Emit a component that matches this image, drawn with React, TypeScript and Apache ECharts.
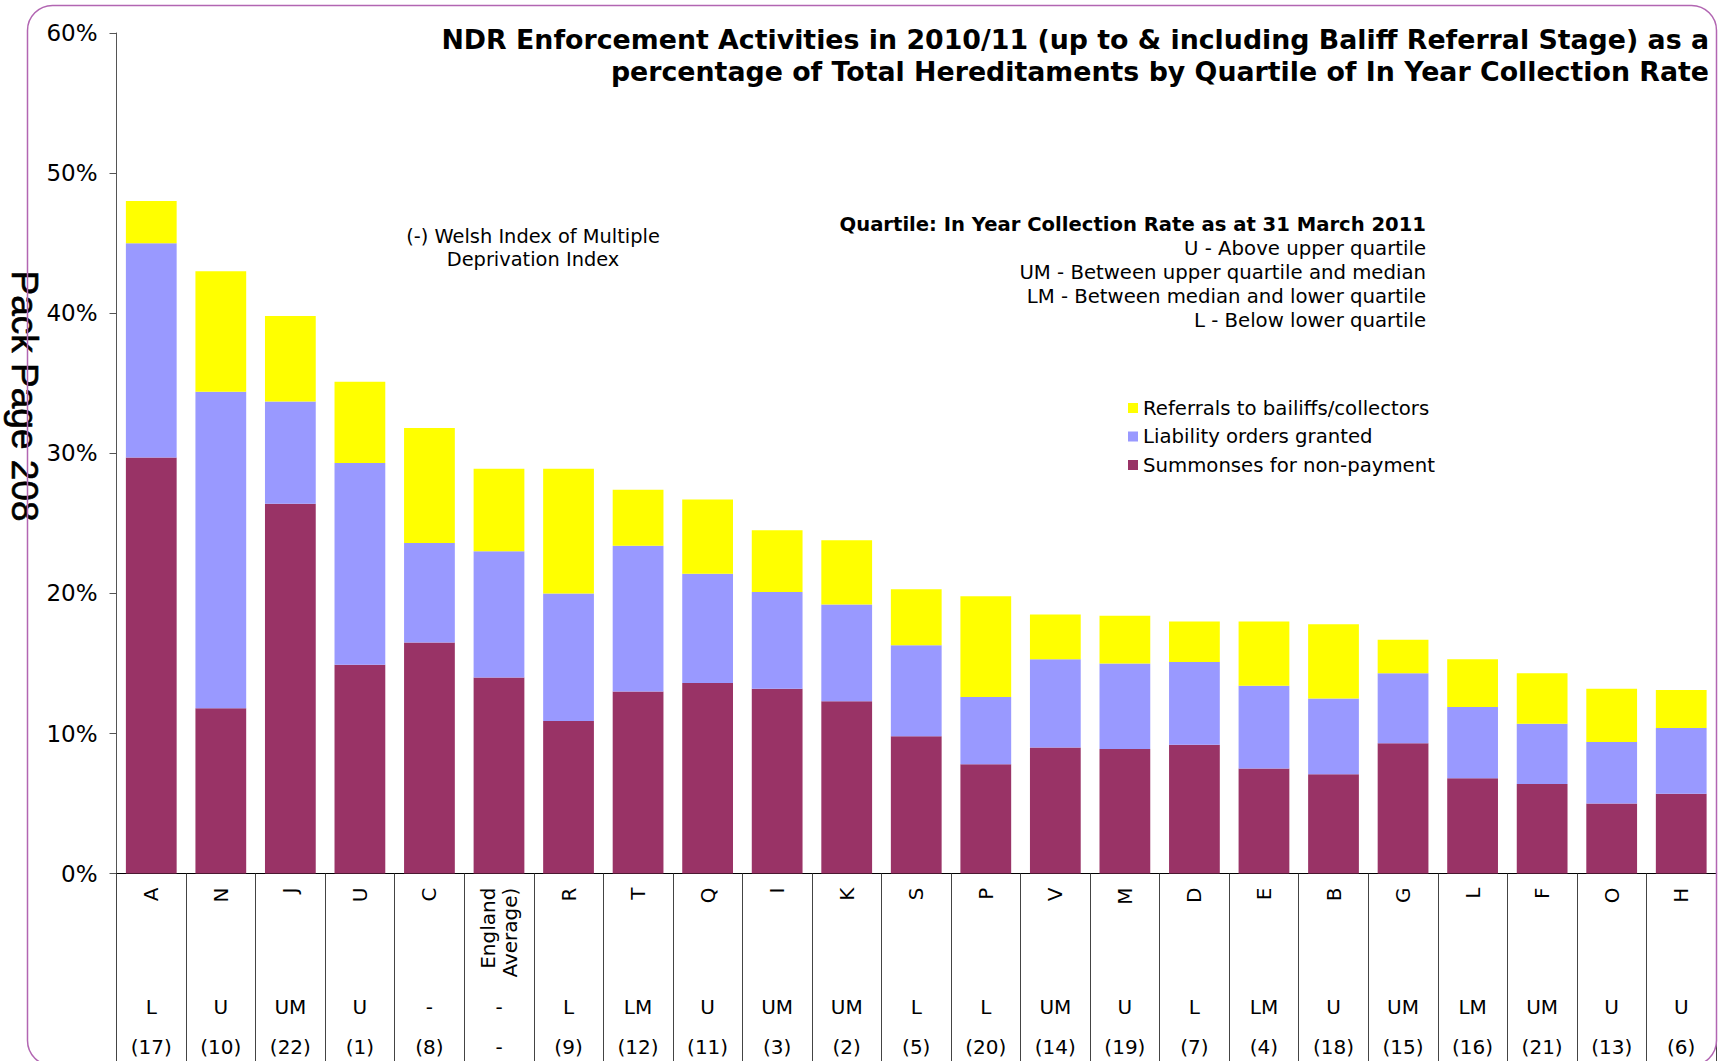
import React, { useEffect, useRef } from "react";
import * as echarts from "echarts";

const categories = ["A", "N", "J", "U", "C", "England\nAverage)", "R", "T", "Q", "I", "K", "S", "P", "V", "M", "D", "E", "B", "G", "L", "F", "O", "H"];
const quartiles = ["L", "U", "UM", "U", "-", "-", "L", "LM", "U", "UM", "UM", "L", "L", "UM", "U", "L", "LM", "U", "UM", "LM", "UM", "U", "U"];
const ranks = ["(17)", "(10)", "(22)", "(1)", "(8)", "-", "(9)", "(12)", "(11)", "(3)", "(2)", "(5)", "(20)", "(14)", "(19)", "(7)", "(4)", "(18)", "(15)", "(16)", "(21)", "(13)", "(6)"];

const summonses = [29.7, 11.8, 26.4, 14.9, 16.5, 14.0, 10.9, 13.0, 13.6, 13.2, 12.3, 9.8, 7.8, 9.0, 8.9, 9.2, 7.5, 7.1, 9.3, 6.8, 6.4, 5.0, 5.7];
const liability = [15.3, 22.6, 7.3, 14.4, 7.1, 9.0, 9.1, 10.4, 7.8, 6.9, 6.9, 6.5, 4.8, 6.3, 6.1, 5.9, 5.9, 5.4, 5.0, 5.1, 4.3, 4.4, 4.7];
const referrals = [3.0, 8.6, 6.1, 5.8, 8.2, 5.9, 8.9, 4.0, 5.3, 4.4, 4.6, 4.0, 7.2, 3.2, 3.4, 2.9, 4.6, 5.3, 2.4, 3.4, 3.6, 3.8, 2.7];

const seriesNames = ["Summonses for non-payment", "Liability orders granted", "Referrals to bailiffs/collectors"];
const legendOrder = ["Referrals to bailiffs/collectors", "Liability orders granted", "Summonses for non-payment"];

const titleText = "NDR Enforcement Activities in 2010/11 (up to & including Baliff Referral Stage) as a\npercentage of Total Hereditaments by Quartile of In Year Collection Rate";
const welshNote = "(-) Welsh Index of Multiple\nDeprivation Index";
const quartileHeading = "Quartile: In Year Collection Rate as at 31 March 2011";
const quartileLines = [
  "U - Above upper quartile",
  "UM - Between upper quartile and median",
  "LM - Between median and lower quartile",
  "L - Below lower quartile",
];

const FONT = "'DejaVu Sans', Verdana, sans-serif";
const BOLD_FONT = "'DejaVu Sans', Verdana, sans-serif";

export default function App() {
  const ref = useRef<HTMLDivElement>(null);

  useEffect(() => {
    if (!ref.current) return;
    const chart = echarts.init(ref.current, null, { renderer: "svg" });

    const colors = ["#993366", "#9999FF", "#FFFF00"];
    const dataSets = [summonses, liability, referrals];

    const option: any = {
      animation: false,
      backgroundColor: "#ffffff",
      grid: { left: 116.5, right: 7, top: 33, bottom: 187.4, containLabel: false },
      legend: {
        data: legendOrder,
        orient: "vertical",
        left: 1128,
        top: 398,
        padding: 0,
        itemWidth: 10,
        itemHeight: 10,
        itemGap: 8.5,
        icon: "rect",
        textStyle: { fontFamily: FONT, fontSize: 19.7, color: "#000" },
      },
      xAxis: [
        {
          type: "category",
          data: categories,
          position: "bottom",
          axisLine: { show: true, lineStyle: { color: "#000", width: 1 } },
          axisTick: { show: true, interval: 0, alignWithLabel: false, length: 200, lineStyle: { color: "#444", width: 1 } },
          axisLabel: { interval: 0, rotate: 90, margin: 14, fontFamily: FONT, fontSize: 20, color: "#000", lineHeight: 22 },
          splitLine: { show: false },
        },
        {
          type: "category",
          data: quartiles,
          position: "bottom",
          axisLine: { show: false },
          axisTick: { show: false },
          axisLabel: { interval: 0, margin: 123, fontFamily: FONT, fontSize: 20, color: "#000" },
          splitLine: { show: false },
        },
        {
          type: "category",
          data: ranks,
          position: "bottom",
          axisLine: { show: false },
          axisTick: { show: false },
          axisLabel: { interval: 0, margin: 163, fontFamily: FONT, fontSize: 20, color: "#000" },
          splitLine: { show: false },
        },
      ],
      yAxis: {
        type: "value",
        min: 0,
        max: 60,
        interval: 10,
        axisLine: { show: true, lineStyle: { color: "#555", width: 1 } },
        axisTick: { show: true, length: 7, lineStyle: { color: "#555" } },
        axisLabel: { formatter: "{value}%", margin: 19, fontFamily: FONT, fontSize: 23, color: "#000" },
        splitLine: { show: false },
      },
      series: dataSets.map((d, i) => ({
        name: seriesNames[i],
        type: "bar",
        stack: "total",
        xAxisIndex: 0,
        data: d,
        barCategoryGap: "27%",
        itemStyle: { color: colors[i] },
        emphasis: { disabled: true },
      })),
      graphic: [
        {
          type: "text",
          x: 24,
          y: 396,
          rotation: -Math.PI / 2,
          z: 10,
          style: {
            text: "Pack Page 208",
            align: "center",
            verticalAlign: "middle",
            fontFamily: "'Liberation Sans', Arial, sans-serif",
            fontSize: 37,
            fill: "#000",
            stroke: "#000",
            lineWidth: 0.6,
          },
        },
        {
          type: "rect",
          z: 20,
          silent: true,
          shape: { x: 27.5, y: 5.5, width: 1689, height: 1060, r: 25 },
          style: { fill: "none", stroke: "#B266B2", lineWidth: 1.5 },
        },
        {
          type: "text",
          x: 1709,
          y: 23,
          style: {
            text: titleText,
            align: "right",
            verticalAlign: "top",
            fontFamily: BOLD_FONT,
            fontWeight: "bold",
            fontSize: 26.8,
            lineHeight: 32,
            fill: "#000",
          },
        },
        {
          type: "text",
          x: 533,
          y: 225,
          style: {
            text: welshNote,
            align: "center",
            verticalAlign: "top",
            fontFamily: FONT,
            fontSize: 19.4,
            lineHeight: 23,
            fill: "#000",
          },
        },
        {
          type: "text",
          x: 1426,
          y: 224,
          style: {
            text: quartileHeading,
            align: "right",
            verticalAlign: "middle",
            fontFamily: BOLD_FONT,
            fontWeight: "bold",
            fontSize: 19.6,
            fill: "#000",
          },
        },
        ...quartileLines.map((t, i) => ({
          type: "text",
          x: 1426,
          y: 248.3 + i * 23.9,
          style: {
            text: t,
            align: "right",
            verticalAlign: "middle",
            fontFamily: FONT,
            fontSize: 19.7,
            fill: "#000",
          },
        })),
      ],
    };

    chart.setOption(option);
    return () => chart.dispose();
  }, []);

  return (
    <div
      ref={ref}
      style={{ position: "absolute", left: 0, top: 0, width: 1723, height: 1061 }}
    />
  );
}
